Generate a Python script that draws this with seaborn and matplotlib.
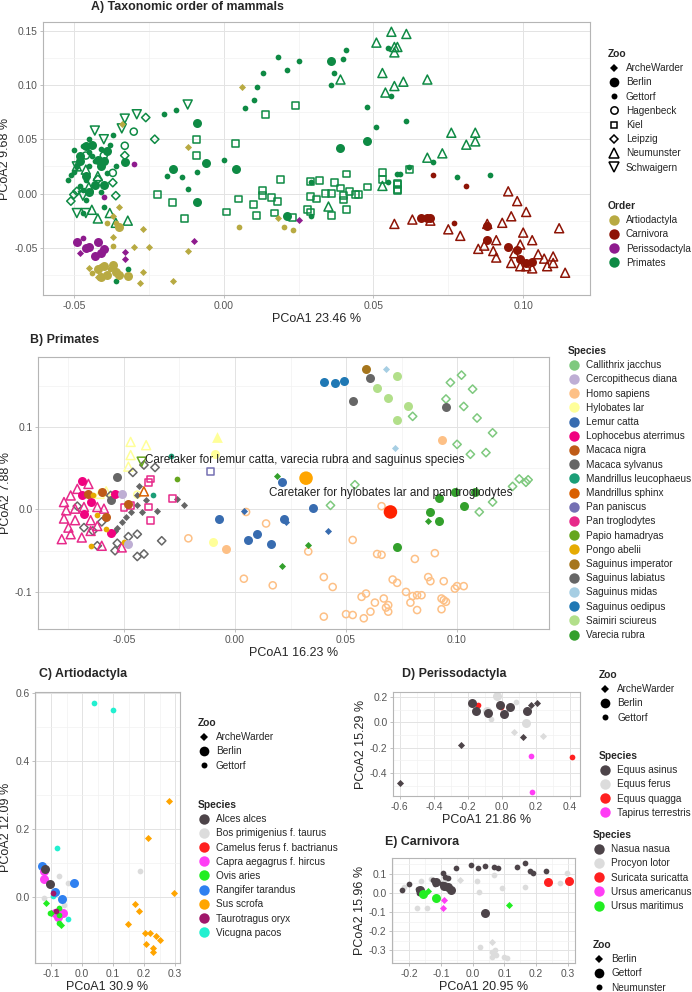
import pandas as pd
import matplotlib
matplotlib.use("Agg")
import matplotlib.pyplot as plt
from matplotlib.lines import Line2D
from matplotlib.ticker import MultipleLocator, AutoMinorLocator, FormatStrFormatter
import seaborn as sns

sns.set_theme(style="white")
plt.rcParams["font.family"] = ["Liberation Sans", "DejaVu Sans"]
plt.rcParams["axes.unicode_minus"] = False

# ---------------- Panel A: taxonomic order ----------------
A_PRI_GETTORF = [(-0.020, 0.073), (-0.016, 0.077), (0.007, 0.079), (0.010, 0.086), (0.011, 0.098),
                 (0.013, 0.111), (0.018, 0.126), (0.021, 0.114), (0.025, 0.122), (0.040, 0.124),
                 (0.041, 0.132), (0.036, 0.100), (0.037, 0.111), (0.048, 0.080), (0.051, 0.061),
                 (0.055, 0.134), (0.056, 0.090), (0.055, 0.011), (0.058, 0.018), (0.000, 0.031),
                 (-0.009, 0.020), (-0.012, 0.004), (-0.014, 0.015), (-0.019, 0.016), (0.029, 0.011),
                 (0.029, -0.021), (-0.036, -0.081), (-0.032, -0.070), (-0.037, 0.054), (-0.052, 0.012),
                 (-0.051, 0.017), (0.061, 0.067), (0.070, 0.029), (0.078, 0.015), (0.089, 0.017),
                 (0.062, 0.024), (0.059, 0.018), (-0.047, 0.044), (-0.045, 0.025), (-0.041, 0.041),
                 (-0.046, -0.006), (-0.048, 0.007), (-0.039, 0.019), (-0.044, 0.035), (-0.049, 0.025),
                 (-0.041, 0.001), (-0.036, 0.025), (-0.045, 0.050), (-0.040, -0.012), (-0.047, -0.018),
                 (-0.050, 0.040), (-0.043, 0.030), (-0.046, 0.012), (-0.050, 0.020), (-0.045, 0.038),
                 (-0.038, 0.045), (-0.047, 0.003)]
A_PRI_BERLIN = [(-0.009, 0.065), (0.036, 0.122), (0.039, 0.042), (0.048, 0.048), (-0.006, 0.028),
                (-0.017, 0.023), (0.004, 0.023), (-0.009, -0.008), (0.021, -0.021), (-0.033, 0.029),
                (-0.040, 0.008), (-0.046, 0.044), (-0.042, 0.031), (-0.046, 0.016), (-0.039, 0.039),
                (-0.041, 0.025), (-0.045, 0.001), (-0.048, 0.035), (-0.044, 0.045), (-0.048, 0.030),
                (-0.043, 0.008), (-0.040, 0.030)]
A_PRI_HAGENBECK = [(-0.030, 0.057), (-0.033, 0.044), (-0.040, 0.035), (-0.037, 0.019), (-0.046, 0.035)]
A_PRI_KIEL = [(-0.009, 0.050), (-0.009, 0.035), (-0.022, -0.001), (-0.017, -0.008), (-0.013, -0.023),
              (0.004, 0.046), (0.014, 0.073), (0.024, 0.081), (0.001, -0.017), (0.005, -0.005),
              (0.010, -0.010), (0.011, -0.020), (0.013, 0.003), (0.013, -0.002), (0.016, -0.004),
              (0.018, -0.007), (0.017, -0.018), (0.019, 0.013), (0.023, -0.022), (0.028, -0.015),
              (0.029, -0.017), (0.029, 0.011), (0.032, 0.012), (0.029, -0.003), (0.031, -0.005),
              (0.034, 0.000), (0.036, 0.000), (0.037, 0.010), (0.039, 0.005), (0.040, -0.002),
              (0.040, -0.006), (0.042, 0.002), (0.044, -0.001), (0.045, -0.001), (0.048, 0.006),
              (0.041, -0.015), (0.036, -0.020), (0.041, 0.018), (0.053, 0.019), (0.053, 0.013),
              (0.058, 0.008), (0.058, 0.004), (0.058, 0.003), (0.062, 0.022), (0.058, 0.009)]
A_PRI_LEIPZIG = [(-0.026, 0.070), (-0.023, 0.050), (-0.037, 0.010), (-0.036, -0.002), (-0.051, -0.007),
                 (-0.050, -0.001), (-0.033, 0.035), (-0.049, 0.002), (-0.042, 0.013)]
A_PRI_NEUMUNSTER = [(0.056, 0.149), (0.051, 0.139), (0.057, 0.135), (0.053, 0.111), (0.039, 0.105),
                    (0.054, 0.093), (0.057, 0.099), (0.053, 0.007), (0.035, -0.012), (-0.044, -0.015),
                    (-0.042, -0.023), (-0.036, -0.027), (-0.032, -0.025), (-0.038, -0.018), (-0.045, 0.006),
                    (-0.049, 0.025), (-0.046, 0.022), (-0.042, 0.016), (0.061, 0.147), (0.058, 0.135),
                    (0.057, 0.130), (0.060, 0.103), (0.068, 0.105), (0.076, 0.056), (0.084, 0.056),
                    (0.084, 0.048), (0.081, 0.045), (0.073, 0.037), (0.068, 0.033)]
A_PRI_SCHWAIGERN = [(-0.012, 0.082), (-0.029, 0.073), (-0.033, 0.069), (-0.034, 0.060), (-0.049, -0.018),
                    (-0.046, -0.018), (-0.043, 0.058), (-0.040, 0.050), (-0.049, 0.025), (-0.047, -0.002)]
A_CAR_NEUMUNSTER = [(0.057, -0.028), (0.063, -0.024), (0.069, -0.025), (0.075, -0.033), (0.079, -0.039),
                    (0.085, -0.051), (0.087, -0.048), (0.091, -0.043), (0.090, -0.053), (0.091, -0.059),
                    (0.093, -0.027), (0.095, 0.002), (0.098, -0.007), (0.096, -0.021), (0.101, -0.017),
                    (0.100, -0.036), (0.103, -0.043), (0.099, -0.047), (0.097, -0.055), (0.105, -0.056),
                    (0.108, -0.067), (0.110, -0.058), (0.110, -0.064), (0.112, -0.032), (0.114, -0.073),
                    (0.096, -0.064), (0.099, -0.067), (0.101, -0.067), (0.103, -0.069), (0.107, -0.060),
                    (0.088, -0.028)]
A_CAR_GETTORF = [(0.070, 0.017), (0.081, 0.007), (0.077, -0.027)]
A_CAR_BERLIN = [(0.066, -0.023), (0.068, -0.023), (0.069, -0.023), (0.088, -0.030), (0.088, -0.043),
                (0.095, -0.049), (0.098, -0.052), (0.099, -0.060), (0.101, -0.064), (0.103, -0.063)]
A_ART_ARCHE = [(0.006, 0.098), (-0.012, 0.043), (-0.035, -0.012), (-0.037, -0.021), (-0.037, -0.040),
               (-0.027, -0.033), (-0.025, -0.049), (-0.030, -0.049), (-0.027, -0.072), (-0.012, -0.053),
               (-0.017, -0.081), (-0.028, -0.082), (0.018, -0.023), (-0.034, 0.064), (-0.042, -0.077),
               (-0.045, -0.069)]
A_ART_GETTORF = [(0.005, -0.031), (0.020, -0.031), (0.023, -0.034), (-0.037, -0.048), (-0.036, -0.027),
                 (-0.039, -0.027), (-0.041, -0.067), (-0.038, -0.070), (-0.044, -0.073)]
A_ART_BERLIN = [(-0.042, -0.070), (-0.040, -0.067), (-0.039, -0.075), (-0.036, -0.072), (-0.035, -0.075),
                (-0.032, -0.076), (-0.041, -0.077), (-0.037, -0.066), (-0.035, -0.031)]
A_PER_ARCHE = [(-0.010, -0.044), (-0.033, -0.054), (-0.033, -0.060), (0.025, -0.024), (-0.048, -0.055)]
A_PER_GETTORF = [(-0.030, 0.027), (-0.040, -0.003), (-0.047, -0.041)]
A_PER_BERLIN = [(-0.049, -0.045), (-0.045, -0.049), (-0.043, -0.058), (-0.042, -0.045), (-0.040, -0.051),
                (-0.046, -0.050), (-0.041, -0.055)]

A_ORDERS = ["Artiodactyla", "Carnivora", "Perissodactyla", "Primates"]
A_COLORS = ["#B8AA42", "#8E1406", "#8E1B8E", "#0E8A44"]
A_GROUPS = [
    ("Primates", "Gettorf", A_PRI_GETTORF), ("Primates", "Berlin", A_PRI_BERLIN),
    ("Primates", "Hagenbeck", A_PRI_HAGENBECK), ("Primates", "Kiel", A_PRI_KIEL),
    ("Primates", "Leipzig", A_PRI_LEIPZIG), ("Primates", "Neumunster", A_PRI_NEUMUNSTER),
    ("Primates", "Schwaigern", A_PRI_SCHWAIGERN),
    ("Carnivora", "Neumunster", A_CAR_NEUMUNSTER), ("Carnivora", "Gettorf", A_CAR_GETTORF),
    ("Carnivora", "Berlin", A_CAR_BERLIN),
    ("Perissodactyla", "ArcheWarder", A_PER_ARCHE), ("Perissodactyla", "Gettorf", A_PER_GETTORF),
    ("Perissodactyla", "Berlin", A_PER_BERLIN),
    ("Artiodactyla", "ArcheWarder", A_ART_ARCHE), ("Artiodactyla", "Gettorf", A_ART_GETTORF),
    ("Artiodactyla", "Berlin", A_ART_BERLIN),
]

# ---------------- Panel B: primates ----------------
B_SPECIES = ["Callithrix jacchus", "Cercopithecus diana", "Homo sapiens", "Hylobates lar", "Lemur catta",
             "Lophocebus aterrimus", "Macaca nigra", "Macaca sylvanus", "Mandrillus leucophaeus",
             "Mandrillus sphinx", "Pan paniscus", "Pan troglodytes", "Papio hamadryas", "Pongo abelii",
             "Saguinus imperator", "Saguinus labiatus", "Saguinus midas", "Saguinus oedipus",
             "Saimiri sciureus", "Varecia rubra"]
B_COLORS = ["#7FC97F", "#BEAED4", "#FDC086", "#FFFF99", "#386CB0", "#F0027F", "#BF5B17", "#666666",
            "#1B9E77", "#D95F02", "#7570B3", "#E7298A", "#66A61E", "#E6AB02", "#A6761D", "#666666",
            "#A6CEE3", "#1F78B4", "#B2DF8A", "#33A02C"]

B_CALLITHRIX_LEIPZIG = [(0.097, 0.154), (0.102, 0.163), (0.107, 0.146), (0.095, 0.134), (0.103, 0.125),
                        (0.080, 0.113), (0.109, 0.111), (0.116, 0.093), (0.100, 0.079), (0.106, 0.067),
                        (0.113, 0.069), (0.125, 0.028), (0.128, 0.037), (0.131, 0.033), (0.132, 0.036),
                        (0.116, 0.009), (0.110, -0.003), (0.054, 0.030), (0.043, 0.005)]
B_SAIMIRI_BERLIN = [(0.073, 0.162), (0.064, 0.147), (0.069, 0.135), (0.078, 0.126), (0.073, 0.108)]
B_OEDIPUS_BERLIN = [(0.040, 0.155), (0.045, 0.154), (0.049, 0.156)]
B_IMPERATOR_BERLIN = [(0.059, 0.171)]
B_LABIATUS_BERLIN = [(0.061, 0.159), (0.053, 0.132), (0.095, 0.124)]
B_MIDAS_ARCHE = [(0.068, 0.171), (0.072, 0.074)]
B_HOMO_BERLIN = [(0.093, 0.084), (-0.004, -0.048)]
B_HOMO_HAGENBECK = [(0.005, -0.003), (0.014, -0.017), (0.066, 0.004), (0.053, -0.037), (0.033, -0.051),
                    (0.064, -0.054), (0.066, -0.055), (0.081, -0.060), (0.090, -0.053), (0.004, -0.084),
                    (0.017, -0.092), (0.040, -0.082), (0.044, -0.094), (0.071, -0.085), (0.073, -0.089),
                    (0.087, -0.082), (0.088, -0.087), (0.094, -0.087), (0.099, -0.096), (0.100, -0.093),
                    (0.103, -0.093), (0.057, -0.106), (0.059, -0.102), (0.063, -0.113), (0.067, -0.108),
                    (0.068, -0.119), (0.069, -0.116), (0.069, -0.124), (0.077, -0.100), (0.080, -0.105),
                    (0.082, -0.104), (0.084, -0.104), (0.079, -0.113), (0.082, -0.122), (0.093, -0.108),
                    (0.094, -0.110), (0.095, -0.112), (0.093, -0.121), (0.040, -0.130), (0.050, -0.127),
                    (0.053, -0.128), (0.058, -0.132), (0.061, -0.124), (-0.021, -0.035)]
B_LEMUR_BERLIN = [(0.021, 0.033), (0.035, 0.002), (-0.007, -0.012), (0.022, -0.011), (0.006, -0.037),
                  (0.010, -0.030), (0.016, -0.042)]
B_LEMUR_ARCHE = [(0.004, -0.002), (0.042, -0.026), (0.023, -0.015)]
B_VARECIA_ARCHE = [(0.019, 0.041), (0.033, -0.043), (0.021, -0.069), (0.087, -0.014)]
B_VARECIA_BERLIN = [(0.092, 0.014), (0.099, 0.021), (0.108, 0.021), (0.103, 0.004), (0.088, -0.003),
                    (0.092, -0.014), (0.073, -0.045)]
B_HYLOBATES_NEUMUNSTER = [(-0.047, 0.082), (-0.040, 0.078), (-0.047, 0.066), (-0.048, 0.052),
                          (-0.058, 0.022), (-0.061, 0.019)]
B_HYLOBATES_SOLID = [(-0.008, 0.088)]
B_HYLOBATES_BERLIN = [(-0.009, 0.067), (-0.010, -0.040)]
B_HYLOBATES_HAGENBECK = [(-0.044, 0.018)]
B_PANISCUS_KIEL = [(-0.011, 0.046)]
B_DIANA_BERLIN = [(-0.051, 0.019), (-0.048, -0.042)]
B_LEUCOPHAEUS_GETTORF = [(-0.029, 0.065), (-0.037, 0.018)]
B_SPHINX_NEUMUNSTER = [(-0.041, 0.022)]
B_PAPIO_GETTORF = [(-0.026, 0.037)]
B_PAPIO_SCHWAIGERN = [(-0.042, 0.058)]
B_SYLVANUS_BERLIN = [(-0.053, 0.039), (-0.056, 0.011)]
B_SYLVANUS_ARCHE = [(-0.043, 0.029), (-0.040, 0.012), (-0.044, 0.017), (-0.044, 0.005), (-0.042, -0.003),
                    (-0.035, -0.002), (-0.026, 0.013), (-0.023, 0.006), (-0.047, -0.003), (-0.049, -0.009),
                    (-0.051, -0.015), (-0.053, -0.022), (-0.054, -0.026)]
B_SYLVANUS_LEIPZIG = [(-0.046, 0.045), (-0.041, 0.054), (-0.036, 0.051), (-0.056, 0.017), (-0.071, 0.004),
                      (-0.068, -0.022), (-0.060, -0.015), (-0.064, -0.026), (-0.062, -0.044), (-0.054, -0.050),
                      (-0.044, -0.030), (-0.048, -0.033), (-0.033, -0.038), (-0.044, -0.057), (-0.041, -0.054),
                      (-0.053, -0.041)]
B_NIGRA_BERLIN = [(-0.048, 0.007), (-0.058, -0.009), (-0.066, 0.019), (-0.060, 0.021)]
B_PONGO_GETTORF = [(-0.058, -0.024), (-0.065, -0.044), (-0.050, -0.039), (-0.062, -0.007), (-0.064, 0.017)]
B_LOPHOCEBUS_BERLIN = [(-0.069, 0.035), (-0.069, 0.017), (-0.056, -0.028), (-0.068, -0.005),
                       (-0.065, 0.009), (-0.054, 0.019)]
B_TROGLODYTES_NEUMUNSTER = [(-0.078, -0.036), (-0.074, -0.030), (-0.069, -0.034), (-0.075, -0.022),
                            (-0.072, -0.013), (-0.076, -0.001), (-0.077, 0.009), (-0.074, 0.017),
                            (-0.071, 0.025), (-0.066, 0.031), (-0.062, 0.003), (-0.068, 0.003),
                            (-0.065, -0.013), (-0.059, 0.001), (-0.062, -0.020), (-0.065, -0.026),
                            (-0.051, -0.046), (-0.060, -0.044), (-0.072, 0.001), (-0.077, -0.011)]
B_TROGLODYTES_KIEL = [(-0.039, 0.033), (-0.038, 0.037), (-0.039, 0.003), (-0.038, -0.013), (-0.028, 0.013),
                      (-0.050, 0.002), (-0.047, 0.005)]
B_CARETAKER_LEMUR = [(0.032, 0.038)]
B_CARETAKER_HYLOBATES = [(0.070, -0.003)]
B_LABELS = ["Caretaker for lemur catta, varecia rubra and saguinus species",
            "Caretaker for hylobates lar and pan troglodytes"]

B_GROUPS = [
    ("Callithrix jacchus", "Leipzig", B_CALLITHRIX_LEIPZIG), ("Saimiri sciureus", "Berlin", B_SAIMIRI_BERLIN),
    ("Saguinus oedipus", "Berlin", B_OEDIPUS_BERLIN), ("Saguinus imperator", "Berlin", B_IMPERATOR_BERLIN),
    ("Saguinus labiatus", "Berlin", B_LABIATUS_BERLIN), ("Saguinus midas", "ArcheWarder", B_MIDAS_ARCHE),
    ("Homo sapiens", "Hagenbeck", B_HOMO_HAGENBECK), ("Homo sapiens", "Berlin", B_HOMO_BERLIN),
    ("Lemur catta", "Berlin", B_LEMUR_BERLIN), ("Lemur catta", "ArcheWarder", B_LEMUR_ARCHE),
    ("Varecia rubra", "ArcheWarder", B_VARECIA_ARCHE), ("Varecia rubra", "Berlin", B_VARECIA_BERLIN),
    ("Hylobates lar", "Neumunster", B_HYLOBATES_NEUMUNSTER), ("Hylobates lar", "Solid", B_HYLOBATES_SOLID),
    ("Hylobates lar", "Berlin", B_HYLOBATES_BERLIN), ("Hylobates lar", "Hagenbeck", B_HYLOBATES_HAGENBECK),
    ("Pan paniscus", "Kiel", B_PANISCUS_KIEL),
    ("Macaca sylvanus", "Leipzig", B_SYLVANUS_LEIPZIG), ("Macaca sylvanus", "ArcheWarder", B_SYLVANUS_ARCHE),
    ("Macaca sylvanus", "Berlin", B_SYLVANUS_BERLIN),
    ("Pan troglodytes", "Neumunster", B_TROGLODYTES_NEUMUNSTER), ("Pan troglodytes", "Kiel", B_TROGLODYTES_KIEL),
    ("Lophocebus aterrimus", "Berlin", B_LOPHOCEBUS_BERLIN), ("Macaca nigra", "Berlin", B_NIGRA_BERLIN),
    ("Pongo abelii", "Gettorf", B_PONGO_GETTORF), ("Cercopithecus diana", "Berlin", B_DIANA_BERLIN),
    ("Mandrillus leucophaeus", "Gettorf", B_LEUCOPHAEUS_GETTORF),
    ("Mandrillus sphinx", "Neumunster", B_SPHINX_NEUMUNSTER),
    ("Papio hamadryas", "Gettorf", B_PAPIO_GETTORF), ("Papio hamadryas", "Schwaigern", B_PAPIO_SCHWAIGERN),
]

# ---------------- Panel C: Artiodactyla ----------------
C_SPECIES = ["Alces alces", "Bos primigenius f. taurus", "Camelus ferus f. bactrianus",
             "Capra aegagrus f. hircus", "Ovis aries", "Rangifer tarandus", "Sus scrofa",
             "Taurotragus oryx", "Vicugna pacos"]
C_COLORS = ["#4D4449", "#DCDCDC", "#FF2020", "#FF3DF5", "#22EE22", "#2F80F0", "#FFA500", "#A0176A", "#22F0D0"]
C_VICUGNA_GETTORF = [(0.040, 0.570), (0.099, 0.550), (-0.081, 0.145), (-0.046, -0.065), (-0.095, 0.003)]
C_SUS_ARCHE = [(0.280, 0.283), (0.212, 0.173), (0.298, 0.011), (0.172, -0.021), (0.183, -0.040),
               (0.149, -0.079), (0.203, -0.107), (0.219, -0.107), (0.239, -0.115), (0.252, -0.125),
               (0.206, -0.139), (0.228, -0.149), (0.228, -0.161)]
C_BOS_GETTORF = [(0.187, 0.077), (-0.073, 0.062), (-0.122, -0.004), (-0.046, 0.042), (-0.057, -0.024)]
C_RANGIFER_BERLIN = [(-0.130, 0.091), (-0.027, 0.042), (-0.089, 0.016), (-0.065, -0.007)]
C_CAPRA_BERLIN = [(-0.122, 0.077), (-0.122, 0.053), (-0.089, -0.046), (-0.062, -0.046), (-0.078, -0.058)]
C_ALCES_BERLIN = [(-0.105, 0.038), (-0.119, 0.081)]
C_OVIS_ARCHE = [(-0.118, -0.017), (-0.068, -0.082), (-0.100, -0.048)]
C_OVIS_GETTORF = [(-0.102, -0.046), (-0.073, -0.031), (-0.073, -0.075), (-0.073, -0.053)]
C_TAURO_GETTORF = [(-0.095, 0.011), (-0.084, -0.040)]
C_GROUPS = [
    ("Vicugna pacos", "Gettorf", C_VICUGNA_GETTORF), ("Sus scrofa", "ArcheWarder", C_SUS_ARCHE),
    ("Bos primigenius f. taurus", "Gettorf", C_BOS_GETTORF), ("Rangifer tarandus", "Berlin", C_RANGIFER_BERLIN),
    ("Capra aegagrus f. hircus", "Berlin", C_CAPRA_BERLIN), ("Alces alces", "Berlin", C_ALCES_BERLIN),
    ("Ovis aries", "ArcheWarder", C_OVIS_ARCHE), ("Ovis aries", "Gettorf", C_OVIS_GETTORF),
    ("Taurotragus oryx", "Gettorf", C_TAURO_GETTORF),
]

# ---------------- Panel D: Perissodactyla ----------------
D_SPECIES = ["Equus asinus", "Equus ferus", "Equus quagga", "Tapirus terrestris"]
D_COLORS = ["#4D4449", "#DCDCDC", "#FF2020", "#FF3DF5"]
D_ASINUS_ARCHE = [(-0.596, -0.481), (-0.241, -0.175), (0.122, -0.115), (0.169, 0.141), (0.208, 0.154)]
D_ASINUS_BERLIN = [(-0.178, 0.154), (-0.153, 0.089), (-0.008, 0.141), (0.012, 0.063), (0.051, 0.125),
                   (0.149, 0.089), (-0.080, 0.073)]
D_FERUS_BERLIN = [(-0.031, 0.212), (-0.090, 0.094), (0.141, -0.005)]
D_FERUS_GETTORF = [(-0.061, 0.029), (0.086, 0.159)]
D_FERUS_ARCHE = [(0.073, -0.076), (0.243, -0.107)]
D_QUAGGA_GETTORF = [(-0.139, 0.141), (-0.002, 0.125), (0.412, -0.272)]
D_TAPIRUS_GETTORF = [(0.169, -0.267), (0.180, -0.546)]
D_GROUPS = [
    ("Equus quagga", "Gettorf", D_QUAGGA_GETTORF), ("Equus ferus", "Berlin", D_FERUS_BERLIN),
    ("Equus ferus", "Gettorf", D_FERUS_GETTORF), ("Equus ferus", "ArcheWarder", D_FERUS_ARCHE),
    ("Equus asinus", "ArcheWarder", D_ASINUS_ARCHE), ("Equus asinus", "Berlin", D_ASINUS_BERLIN),
    ("Tapirus terrestris", "Gettorf", D_TAPIRUS_GETTORF),
]

# ---------------- Panel E: Carnivora ----------------
E_SPECIES = ["Nasua nasua", "Procyon lotor", "Suricata suricatta", "Ursus americanus", "Ursus maritimus"]
E_COLORS = ["#4D4449", "#DCDCDC", "#FF2020", "#FF3DF5", "#22EE22"]
E_NASUA_GETTORF = [(0.039, -0.104), (-0.069, 0.018), (-0.077, 0.033), (-0.090, 0.039), (-0.114, 0.060),
                   (-0.167, 0.016)]
E_NASUA_NEUMUNSTER = [(-0.223, 0.014), (-0.202, 0.046), (-0.170, -0.002), (-0.172, 0.021), (-0.120, 0.046),
                      (-0.093, 0.104), (-0.087, 0.082), (-0.077, 0.077), (-0.051, 0.133), (-0.006, 0.147),
                      (0.018, 0.133), (0.039, 0.142), (0.068, 0.139), (0.081, 0.133), (0.139, 0.135),
                      (0.164, 0.160), (0.179, 0.118), (0.189, 0.107), (0.230, 0.118), (-0.125, 0.067),
                      (-0.098, 0.046), (-0.082, 0.033)]
E_PROCYON_NEUMUNSTER = [(-0.164, 0.063), (-0.130, 0.074), (-0.088, 0.068), (0.013, 0.063), (0.068, 0.095),
                        (0.092, 0.025), (0.166, 0.030), (0.275, 0.053), (0.298, 0.104), (0.021, 0.007),
                        (-0.175, -0.077), (-0.144, -0.077), (-0.215, 0.033), (0.023, -0.282), (0.060, -0.309),
                        (0.071, -0.300), (0.060, -0.335), (0.097, -0.335), (0.108, -0.344), (0.073, -0.326)]
E_PROCYON_BERLIN = [(-0.040, 0.068), (0.062, -0.260)]
E_SURICATA_GETTORF = [(0.237, 0.056), (0.302, 0.065)]
E_AMERICANUS_BERLIN = [(-0.091, -0.037), (-0.093, -0.081)]
E_MARITIMUS_BERLIN = [(-0.141, 0.011), (0.113, -0.063)]
E_MARITIMUS_GETTORF = [(-0.155, -0.007), (-0.117, -0.028)]
E_GROUPS = [
    ("Procyon lotor", "Neumunster", E_PROCYON_NEUMUNSTER), ("Procyon lotor", "Berlin", E_PROCYON_BERLIN),
    ("Nasua nasua", "Neumunster", E_NASUA_NEUMUNSTER), ("Nasua nasua", "Gettorf", E_NASUA_GETTORF),
    ("Suricata suricatta", "Gettorf", E_SURICATA_GETTORF), ("Ursus americanus", "Berlin", E_AMERICANUS_BERLIN),
    ("Ursus maritimus", "Berlin", E_MARITIMUS_BERLIN), ("Ursus maritimus", "Gettorf", E_MARITIMUS_GETTORF),
]

# marker look per zoo (ggplot-like shapes)
DIAMOND = dict(marker="D", s=13, filled=True)
BIG = dict(marker="o", s=42, filled=True)
SMALL = dict(marker="o", s=17, filled=True)
ZOO_STYLE = {
    "ArcheWarder": DIAMOND, "Berlin": BIG, "Gettorf": SMALL,
    "Hagenbeck": dict(marker="o", s=26, filled=False),
    "Kiel": dict(marker="s", s=24, filled=False),
    "Leipzig": dict(marker="D", s=18, filled=False),
    "Neumunster": dict(marker="^", s=42, filled=False),
    "Schwaigern": dict(marker="v", s=42, filled=False),
    "Solid": dict(marker="^", s=60, filled=True),
}
E_ZOO_STYLE = {"Berlin": DIAMOND, "Gettorf": BIG, "Neumunster": SMALL}


def to_frame(groups):
    frames = []
    for grp, zoo, pts in groups:
        d = pd.DataFrame(pts, columns=["x", "y"])
        d["group"] = grp
        d["zoo"] = zoo
        frames.append(d)
    return pd.concat(frames, ignore_index=True)


def draw_points(ax, df, palette, styles):
    for (grp, zoo), sub in df.groupby(["group", "zoo"], sort=False):
        st = styles[zoo]
        col = palette[grp]
        if st["filled"]:
            sns.scatterplot(data=sub, x="x", y="y", ax=ax, color=col, marker=st["marker"],
                            s=st["s"], linewidth=0, legend=False)
        else:
            sns.scatterplot(data=sub, x="x", y="y", ax=ax, color=col, marker=st["marker"],
                            s=st["s"], facecolor="none", edgecolor=col, linewidth=1.1, legend=False)


def style_axes(ax, xlim, ylim, xstep, ystep, xfmt, yfmt, xlabel, ylabel, xpad=2, ypad=2):
    ax.set_xlim(*xlim)
    ax.set_ylim(*ylim)
    ax.xaxis.set_major_locator(MultipleLocator(xstep))
    ax.yaxis.set_major_locator(MultipleLocator(ystep))
    ax.xaxis.set_minor_locator(AutoMinorLocator(2))
    ax.yaxis.set_minor_locator(AutoMinorLocator(2))
    ax.xaxis.set_major_formatter(FormatStrFormatter(xfmt))
    ax.yaxis.set_major_formatter(FormatStrFormatter(yfmt))
    ax.grid(which="major", color="#E3E3E3", linewidth=0.7)
    ax.grid(which="minor", color="#F1F1F1", linewidth=0.5)
    ax.set_axisbelow(True)
    for sp in ax.spines.values():
        sp.set_color("#B5B5B5")
        sp.set_linewidth(0.8)
    ax.tick_params(which="major", length=2.5, width=0.6, color="#B5B5B5",
                   labelsize=7.4, labelcolor="#555555", pad=1.5, bottom=True, left=True)
    ax.tick_params(which="minor", length=0)
    ax.set_xlabel(xlabel, fontsize=9, labelpad=xpad)
    ax.set_ylabel(ylabel, fontsize=9, labelpad=ypad)


def add_legend(fig, handles, labels, title, x_px, y_px):
    leg = fig.legend(handles, labels, title=title, loc="upper left",
                     bbox_to_anchor=(x_px / 692, 1 - y_px / 992), frameon=False,
                     fontsize=7.2, title_fontproperties={"weight": "bold", "size": 7.4},
                     alignment="left", handlelength=1.2, handletextpad=0.6,
                     labelspacing=0.42, borderpad=0, borderaxespad=0)
    return leg


def color_handles(colors):
    return [Line2D([], [], linestyle="", marker="o", markersize=7.5, color=c, markeredgewidth=0)
            for c in colors]


def zoo_handle(st, big=7, small=4.3):
    if st is DIAMOND:
        return Line2D([], [], linestyle="", marker="D", markersize=3.8, color="black", markeredgewidth=0)
    if st is BIG:
        return Line2D([], [], linestyle="", marker="o", markersize=big, color="black", markeredgewidth=0)
    if st is SMALL:
        return Line2D([], [], linestyle="", marker="o", markersize=small, color="black", markeredgewidth=0)
    ms = {"o": 5.3, "s": 5.0, "D": 4.2, "^": 6.8, "v": 6.8}[st["marker"]]
    return Line2D([], [], linestyle="", marker=st["marker"], markersize=ms, markerfacecolor="none",
                  markeredgecolor="black", markeredgewidth=1.1)


fig = plt.figure(figsize=(6.92, 9.92), dpi=100)
TITLE_FS = 8.9

# Panel A
axA = fig.add_axes([43 / 692, 1 - 295 / 992, 547 / 692, 273 / 992])
dfA = to_frame(A_GROUPS)
draw_points(axA, dfA, dict(zip(A_ORDERS, A_COLORS)), ZOO_STYLE)
style_axes(axA, (-0.0603, 0.1223), (-0.0935, 0.158), 0.05, 0.05, "%.2f", "%.2f",
           "PCoA1 23.46 %", "PCoA2 9.68 %")
fig.text(91 / 692, 1 - 7 / 992, "A) Taxonomic order of mammals", fontsize=TITLE_FS, weight="bold", va="center")
zoo_names = ["ArcheWarder", "Berlin", "Gettorf", "Hagenbeck", "Kiel", "Leipzig", "Neumunster", "Schwaigern"]
add_legend(fig, [zoo_handle(ZOO_STYLE[z]) for z in zoo_names], zoo_names, "Zoo", 608, 49)
add_legend(fig, color_handles(A_COLORS), A_ORDERS, "Order", 608, 201)

# Panel B
axB = fig.add_axes([38 / 692, 1 - 629 / 992, 511 / 692, 272 / 992])
dfB = to_frame(B_GROUPS)
draw_points(axB, dfB, dict(zip(B_SPECIES, B_COLORS)), ZOO_STYLE)
care = pd.DataFrame(B_CARETAKER_LEMUR + B_CARETAKER_HYLOBATES, columns=["x", "y"])
care["who"] = B_LABELS
sns.scatterplot(data=care, x="x", y="y", hue="who", palette=["#FFA500", "#FF2200"],
                s=95, linewidth=0, legend=False, ax=axB)
axB.text(-0.0405, 0.060, B_LABELS[0], fontsize=8.4, va="center", ha="left", color="#222222")
axB.text(0.0155, 0.0195, B_LABELS[1], fontsize=8.4, va="center", ha="left", color="#222222")
style_axes(axB, (-0.0887, 0.1414), (-0.145, 0.185), 0.05, 0.1, "%.2f", "%.1f",
           "PCoA1 16.23 %", "PCoA2 7.88 %")
fig.text(30 / 692, 1 - 340 / 992, "B) Primates", fontsize=TITLE_FS, weight="bold", va="center")
add_legend(fig, color_handles(B_COLORS), B_SPECIES, "Species", 568, 346)

# Panel C
axC = fig.add_axes([35 / 692, 1 - 963 / 992, 145 / 692, 271 / 992])
dfC = to_frame(C_GROUPS)
draw_points(axC, dfC, dict(zip(C_SPECIES, C_COLORS)), ZOO_STYLE)
style_axes(axC, (-0.152, 0.316), (-0.194, 0.603), 0.1, 0.2, "%.1f", "%.1f",
           "PCoA1 30.9 %", "PCoA2 12.09 %")
fig.text(39 / 692, 1 - 674 / 992, "C) Artiodactyla", fontsize=TITLE_FS, weight="bold", va="center")
c_zoo = ["ArcheWarder", "Berlin", "Gettorf"]
add_legend(fig, [zoo_handle(ZOO_STYLE[z]) for z in c_zoo], c_zoo, "Zoo", 198, 718)
add_legend(fig, color_handles(C_COLORS), C_SPECIES, "Species", 198, 800)

# Panel D
axD = fig.add_axes([393 / 692, 1 - 796 / 992, 187 / 692, 104 / 992])
dfD = to_frame(D_GROUPS)
draw_points(axD, dfD, dict(zip(D_SPECIES, D_COLORS)), ZOO_STYLE)
style_axes(axD, (-0.64, 0.46), (-0.58, 0.24), 0.2, 0.2, "%.1f", "%.1f",
           "PCoA1 21.86 %", "PCoA2 15.29 %")
fig.text(402 / 692, 1 - 674 / 992, "D) Perissodactyla", fontsize=TITLE_FS, weight="bold", va="center")
add_legend(fig, [zoo_handle(ZOO_STYLE[z]) for z in c_zoo], c_zoo, "Zoo", 599, 670)
add_legend(fig, color_handles(D_COLORS), D_SPECIES, "Species", 599, 751)

# Panel E
axE = fig.add_axes([392 / 692, 1 - 963 / 992, 183 / 692, 105 / 992])
dfE = to_frame(E_GROUPS)
draw_points(axE, dfE, dict(zip(E_SPECIES, E_COLORS)), E_ZOO_STYLE)
style_axes(axE, (-0.254, 0.322), (-0.368, 0.184), 0.1, 0.1, "%.1f", "%.1f",
           "PCoA1 20.95 %", "PCoA2 15.96 %")
fig.text(385 / 692, 1 - 842 / 992, "E) Carnivora", fontsize=TITLE_FS, weight="bold", va="center")
add_legend(fig, color_handles(E_COLORS), E_SPECIES, "Species", 593, 830)
e_zoo = ["Berlin", "Gettorf", "Neumunster"]
add_legend(fig, [zoo_handle(E_ZOO_STYLE[z]) for z in e_zoo], e_zoo, "Zoo", 593, 940)

fig.savefig("out.png", dpi=100)
